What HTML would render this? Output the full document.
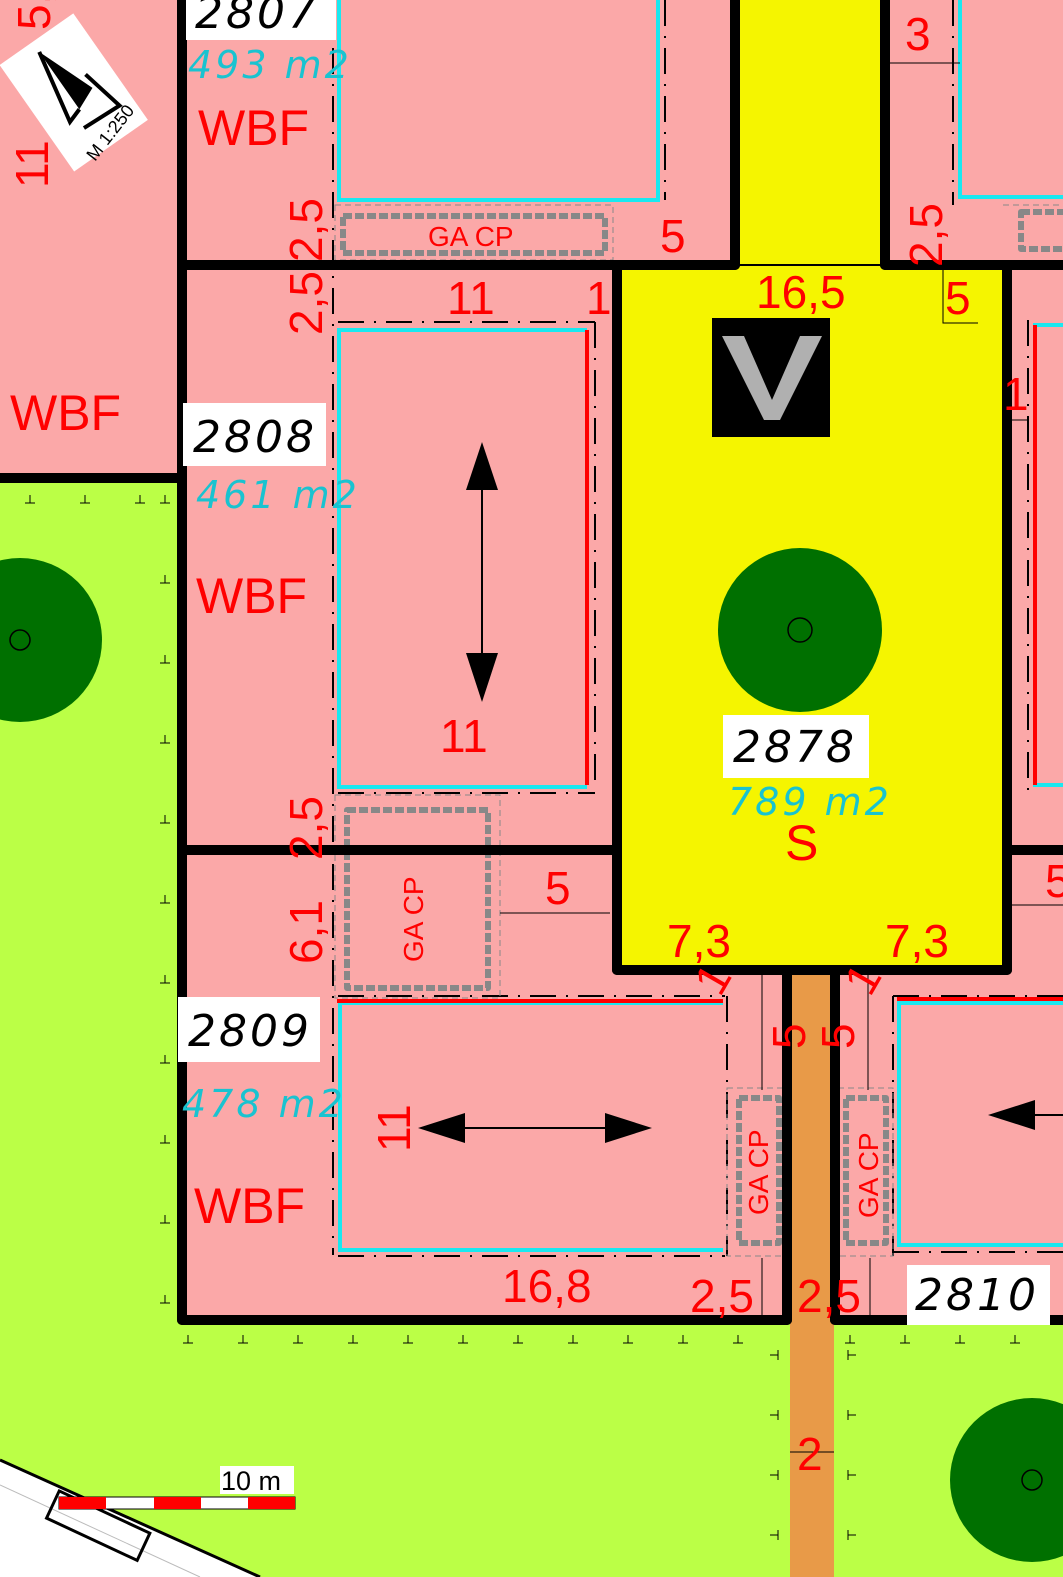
<!DOCTYPE html>
<html><head><meta charset="utf-8"><style>
html,body{margin:0;padding:0;background:#fff}
svg{display:block}
text{font-family:"Liberation Sans",sans-serif}
.r{fill:#f00;font-size:46px}
.w{fill:#f00;font-size:50px}
.lb{fill:#000;font-size:44px;font-style:italic;font-family:"DejaVu Sans","Liberation Sans",sans-serif;font-weight:200;letter-spacing:3px}
.cy{fill:#19c3d0;font-size:38px;font-style:italic;font-family:"DejaVu Sans","Liberation Sans",sans-serif;font-weight:200;letter-spacing:3px}
.ga{fill:#f00;font-size:28px}
</style></head><body>
<svg width="1063" height="1577" viewBox="0 0 1063 1577" xmlns="http://www.w3.org/2000/svg">
<rect x="0" y="0" width="1063" height="1577" fill="#bbff46"/>
<polygon points="0,1460 260,1577 0,1577" fill="#fff"/>
<line x1="0" y1="1460" x2="260" y2="1577" stroke="#000" stroke-width="3"/>
<line x1="0" y1="1485" x2="200" y2="1577" stroke="#bbb" stroke-width="1"/>
<rect x="55" y="1490" width="100" height="30" fill="none" stroke="#000" stroke-width="3" transform="rotate(25 55 1500)"/>
<rect x="0" y="0" width="182" height="478" fill="#fba8a8"/>
<rect x="182" y="0" width="881" height="1320" fill="#fba8a8"/>
<rect x="735" y="0" width="150" height="265" fill="#f5f500"/>
<rect x="617" y="265" width="390" height="705" fill="#f5f500"/>
<rect x="790" y="970" width="44" height="607" fill="#e89a48"/>
<circle cx="20" cy="640" r="82" fill="#007000"/><circle cx="20" cy="640" r="10" fill="none" stroke="#000" stroke-width="1.5"/>
<circle cx="800" cy="630" r="82" fill="#007000"/><circle cx="800" cy="630" r="12" fill="none" stroke="#000" stroke-width="1.5"/>
<circle cx="1032" cy="1480" r="82" fill="#007000"/><circle cx="1032" cy="1480" r="10" fill="none" stroke="#000" stroke-width="1.5"/>

<g fill="none" stroke="#19e8f0" stroke-width="4">
<polyline points="339,0 339,200 658,200 658,0"/>
<polyline points="587,330 339,330 339,787 587,787"/>
<polyline points="723,1003 340,1003 340,1250 723,1250"/>
<polyline points="1063,1003 899,1003 899,1245 1063,1245"/>
<polyline points="960,0 960,197 1063,197"/>
<polyline points="1063,325 1035,325 1035,785 1063,785"/>
</g>
<g stroke="#f00" stroke-width="4">
<line x1="587" y1="330" x2="587" y2="785"/>
<line x1="337" y1="1001" x2="723" y2="1001"/>
<line x1="897" y1="999" x2="1063" y2="999"/>
<line x1="1035" y1="325" x2="1035" y2="785"/>
</g>
<g fill="none" stroke="#000" stroke-width="2" stroke-dasharray="26,10,2,10">
<line x1="333" y1="0" x2="333" y2="1255"/>
<line x1="665" y1="0" x2="665" y2="200"/>
<line x1="595" y1="322" x2="595" y2="790"/>
<line x1="338" y1="322" x2="595" y2="322"/>
<line x1="338" y1="793" x2="595" y2="793"/>
<line x1="338" y1="996" x2="725" y2="996"/>
<line x1="338" y1="1256" x2="725" y2="1256"/>
<line x1="727" y1="996" x2="727" y2="1256"/>
<line x1="893" y1="996" x2="1063" y2="996"/>
<line x1="893" y1="996" x2="893" y2="1256"/>
<line x1="893" y1="1252" x2="1063" y2="1252"/>
<line x1="953" y1="0" x2="953" y2="205"/>
<line x1="1028" y1="320" x2="1028" y2="790"/>
</g>
<g fill="none" stroke="#888" stroke-width="1" stroke-dasharray="6,4">
<rect x="335" y="205" width="278" height="55"/>
<rect x="335" y="795" width="165" height="203"/>
<rect x="727" y="1088" width="58" height="168"/>
<rect x="838" y="1088" width="55" height="168"/>
<line x1="1003" y1="205" x2="1063" y2="205"/>
</g>
<g fill="none" stroke="#888" stroke-width="6" stroke-dasharray="9,3" stroke-linejoin="round">
<rect x="343" y="216" width="262" height="37"/>
<rect x="347" y="810" width="141" height="178"/>
<rect x="739" y="1098" width="40" height="145"/>
<rect x="846" y="1098" width="40" height="145"/>
<rect x="1021" y="212" width="50" height="37"/>
</g>
<g stroke="#000" stroke-width="1" fill="none">
<line x1="890" y1="63" x2="960" y2="63"/>
<line x1="500" y1="913" x2="610" y2="913"/>
<polyline points="943,265 943,323 978,323"/>
<line x1="1010" y1="420" x2="1028" y2="420"/>
<line x1="1010" y1="905" x2="1063" y2="905"/>
<line x1="762" y1="975" x2="762" y2="1090"/>
<line x1="868" y1="975" x2="868" y2="1090"/>
<line x1="762" y1="1258" x2="762" y2="1318"/>
<line x1="870" y1="1258" x2="870" y2="1318"/>
<line x1="790" y1="1452" x2="834" y2="1452"/>
</g>
<g stroke="#000" stroke-width="10" fill="none" stroke-linecap="round">
<line x1="182" y1="0" x2="182" y2="1320"/>
<line x1="0" y1="478" x2="182" y2="478"/>
<line x1="182" y1="265" x2="735" y2="265"/>
<line x1="735" y1="0" x2="735" y2="265"/>
<line x1="885" y1="0" x2="885" y2="265"/>
<line x1="885" y1="265" x2="1063" y2="265"/>
<line x1="617" y1="265" x2="617" y2="970"/>
<line x1="617" y1="970" x2="1007" y2="970"/>
<line x1="1007" y1="265" x2="1007" y2="970"/>
<line x1="182" y1="850" x2="617" y2="850"/>
<line x1="1007" y1="850" x2="1063" y2="850"/>
<line x1="787" y1="970" x2="787" y2="1320"/>
<line x1="835" y1="970" x2="835" y2="1320"/>
<line x1="182" y1="1320" x2="787" y2="1320"/>
<line x1="835" y1="1320" x2="1063" y2="1320"/>
</g>
<line x1="735" y1="265" x2="885" y2="265" stroke="#000" stroke-width="2"/>
<g stroke="#000" stroke-width="1">
<path d="M165,495v8M160,503h10 M165,575v8M160,583h10 M165,655v8M160,663h10 M165,735v8M160,743h10 M165,815v8M160,823h10 M165,895v8M160,903h10 M165,975v8M160,983h10 M165,1055v8M160,1063h10 M165,1135v8M160,1143h10 M165,1215v8M160,1223h10 M165,1295v8M160,1303h10"/>
<path d="M30,495v8M25,503h10 M85,495v8M80,503h10 M140,495v8M135,503h10"/>
<path d="M188,1335v8M183,1343h10 M243,1335v8M238,1343h10 M298,1335v8M293,1343h10 M353,1335v8M348,1343h10 M408,1335v8M403,1343h10 M463,1335v8M458,1343h10 M518,1335v8M513,1343h10 M573,1335v8M568,1343h10 M628,1335v8M623,1343h10 M683,1335v8M678,1343h10 M738,1335v8M733,1343h10"/>
<path d="M850,1335v8M845,1343h10 M905,1335v8M900,1343h10 M960,1335v8M955,1343h10 M1015,1335v8M1010,1343h10"/>
<path d="M770,1355h8M778,1350v10 M770,1415h8M778,1410v10 M770,1475h8M778,1470v10 M770,1535h8M778,1530v10"/>
<path d="M848,1355h8M848,1350v10 M848,1415h8M848,1410v10 M848,1475h8M848,1470v10 M848,1535h8M848,1530v10"/>
</g>
<rect x="186" y="0" width="150" height="40" fill="#fff"/>
<rect x="183" y="403" width="143" height="63" fill="#fff"/>
<rect x="178" y="997" width="142" height="65" fill="#fff"/>
<rect x="723" y="715" width="146" height="63" fill="#fff"/>
<rect x="907" y="1265" width="143" height="60" fill="#fff"/>
<text x="195" y="28" class="lb">2807</text>
<text x="193" y="452" class="lb">2808</text>
<text x="188" y="1046" class="lb">2809</text>
<text x="733" y="762" class="lb">2878</text>
<text x="915" y="1310" class="lb">2810</text>
<text x="188" y="78" class="cy">493 m2</text>
<text x="196" y="508" class="cy">461 m2</text>
<text x="182" y="1117" class="cy">478 m2</text>
<text x="728" y="815" class="cy">789 m2</text>
<rect x="712" y="318" width="118" height="119" fill="#000"/>
<polygon points="722,336 744,336 772,400 800,336 822,336 780,420 764,420" fill="#b0b0b0"/>
<g stroke="#000" stroke-width="2">
<line x1="482" y1="470" x2="482" y2="680"/>
<line x1="445" y1="1128" x2="625" y2="1128"/>
<line x1="1025" y1="1115" x2="1063" y2="1115"/>
</g>
<polygon points="482,442 466,490 498,490" fill="#000"/>
<polygon points="482,702 466,653 498,653" fill="#000"/>
<polygon points="418,1128 465,1113 465,1143" fill="#000"/>
<polygon points="652,1128 605,1113 605,1143" fill="#000"/>
<polygon points="988,1115 1035,1100 1035,1130" fill="#000"/>
<text x="198" y="145" class="w">WBF</text>
<text x="10" y="430" class="w">WBF</text>
<text x="196" y="613" class="w">WBF</text>
<text x="194" y="1223" class="w">WBF</text>
<text x="785" y="860" class="w">S</text>
<text x="660" y="252" class="r">5</text>
<text x="905" y="50" class="r">3</text>
<text x="756" y="308" class="r">16,5</text>
<text x="945" y="314" class="r">5</text>
<text x="447" y="314" class="r">11</text>
<text x="586" y="314" class="r">1</text>
<text x="1003" y="410" class="r">1</text>
<text x="440" y="752" class="r">11</text>
<text x="545" y="904" class="r">5</text>
<text x="1045" y="897" class="r">5</text>
<text x="667" y="957" class="r">7,3</text>
<text x="885" y="957" class="r">7,3</text>
<text x="502" y="1302" class="r">16,8</text>
<text x="690" y="1312" class="r">2,5</text>
<text x="797" y="1312" class="r">2,5</text>
<text x="797" y="1470" class="r">2</text>
<text class="r" transform="translate(48,188) rotate(-90)">11</text>
<text class="r" transform="translate(50,30) rotate(-90)">5,</text>
<text class="r" transform="translate(322,262) rotate(-90)">2,5</text>
<text class="r" transform="translate(322,335) rotate(-90)">2,5</text>
<text class="r" transform="translate(322,860) rotate(-90)">2,5</text>
<text class="r" transform="translate(322,964) rotate(-90)">6,1</text>
<text class="r" transform="translate(942,267) rotate(-90)">2,5</text>
<text class="r" transform="translate(410,1152) rotate(-90)">11</text>
<text class="r" transform="translate(805,1049) rotate(-90)">5</text>
<text class="r" transform="translate(854,1049) rotate(-90)">5</text>
<text class="r" transform="translate(720,998) rotate(-60)">1</text>
<text class="r" transform="translate(870,998) rotate(-60)">1</text>
<text x="428" y="246" class="ga">GA CP</text>
<text class="ga" transform="translate(423,962) rotate(-90)">GA CP</text>
<text class="ga" transform="translate(768,1215) rotate(-90)">GA CP</text>
<text class="ga" transform="translate(878,1218) rotate(-90)">GA CP</text>
<g transform="translate(72,90) rotate(-35)">
<rect x="-45" y="-62" width="90" height="130" fill="#fff"/>
<polygon points="-5,-50 18,10 -5,20" fill="#000"/>
<polyline points="-5,-50 -20,25 -5,20" fill="none" stroke="#000" stroke-width="4"/>
<polyline points="20,-5 30,40 -12,38" fill="none" stroke="#000" stroke-width="4"/>
</g>
<text x="0" y="0" font-size="18" fill="#000" transform="translate(95,162) rotate(-52)">M 1:250</text>
<rect x="220" y="1466" width="74" height="28" fill="#fff"/>
<text x="221" y="1490" font-size="27" fill="#000">10 m</text>
<rect x="59" y="1497" width="236" height="12" fill="#fff" stroke="#000" stroke-width="1"/>
<rect x="59" y="1497" width="47" height="12" fill="#f00"/>
<rect x="154" y="1497" width="47" height="12" fill="#f00"/>
<rect x="248" y="1497" width="47" height="12" fill="#f00"/>
</svg>
</body></html>
